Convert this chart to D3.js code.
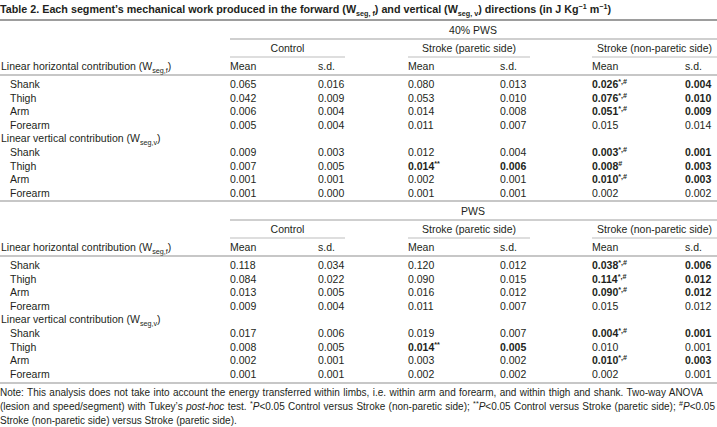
<!DOCTYPE html>
<html lang="en">
<head>
    <meta charset="UTF-8">
    <title>Table 2</title>
    <style>
        body { margin: 0; background: #fff; }
        svg { display: block; }
        text { font-family: "Liberation Sans", Arial, sans-serif; fill: #231f20; }
    </style>
</head>
<body>
    <svg width="717" height="427"></svg>
    <script src="https://d3js.org/d3.v7.min.js"></script>
    <script>
        // ---- data ----
        const segments = ["Shank", "Thigh", "Arm", "Forearm"]
        const groups = ["Control", "Stroke (paretic side)", "Stroke (non-paretic side)"]
        const speeds = ["40% PWS", "PWS"]

        // each row: control mean, sd, paretic mean, sd, non-paretic mean, sd
        const slowHorizontal = [
            [0.065, 0.016, 0.080, 0.013, 0.026, 0.004],
            [0.042, 0.009, 0.053, 0.010, 0.076, 0.010],
            [0.006, 0.004, 0.014, 0.008, 0.051, 0.009],
            [0.005, 0.004, 0.011, 0.007, 0.015, 0.014],
        ]
        const slowVertical = [
            [0.009, 0.003, 0.012, 0.004, 0.003, 0.001],
            [0.007, 0.005, 0.014, 0.006, 0.008, 0.003],
            [0.001, 0.001, 0.002, 0.001, 0.010, 0.003],
            [0.001, 0.000, 0.001, 0.001, 0.002, 0.002],
        ]
        const pwsHorizontal = [
            [0.118, 0.034, 0.120, 0.012, 0.038, 0.006],
            [0.084, 0.022, 0.090, 0.015, 0.114, 0.012],
            [0.013, 0.005, 0.016, 0.012, 0.090, 0.012],
            [0.009, 0.004, 0.011, 0.007, 0.015, 0.012],
        ]
        const pwsVertical = [
            [0.017, 0.006, 0.019, 0.007, 0.004, 0.001],
            [0.008, 0.005, 0.014, 0.005, 0.010, 0.001],
            [0.002, 0.001, 0.003, 0.002, 0.010, 0.003],
            [0.001, 0.001, 0.002, 0.002, 0.002, 0.001],
        ]
        // significance marks per group (marked cells are bold)
        const slowMarksH = [["", "", "*,#"], ["", "", "*,#"], ["", "", "*,#"], ["", "", ""]]
        const slowMarksV = [["", "", "*,#"], ["", "**", "#"], ["", "", "*,#"], ["", "", ""]]
        const pwsMarksH = [["", "", "*,#"], ["", "", "*,#"], ["", "", "*,#"], ["", "", ""]]
        const pwsMarksV = [["", "", "*,#"], ["", "**", ""], ["", "", "*,#"], ["", "", ""]]

        const blocks = [
            { speed: speeds[0], h: slowHorizontal, v: slowVertical, mh: slowMarksH, mv: slowMarksV, top: 20 },
            { speed: speeds[1], h: pwsHorizontal, v: pwsVertical, mh: pwsMarksH, mv: pwsMarksV, top: 201 },
        ]

        const svg = d3.select('svg')
        const W = 717
        const fs = 10.5
        const fmt = d3.format('.3f')

        // columns
        const colX = d3.scaleOrdinal()
            .domain(['c0m', 'c0s', 'c1m', 'c1s', 'c2m', 'c2s'])
            .range([230, 318, 408, 500, 592, 685])
        const groupSpan = [[230, 345], [408, 530], [592, 717]]

        // rich text helper: parts = [{t, sub, sup, i}]
        function rich(sel, parts) {
            let shift = 0
            parts.forEach(p => {
                const s = p.sub ? 2.5 : p.sup ? -3.8 : 0
                sel.append('tspan')
                    .attr('dy', s - shift)
                    .style('font-size', s ? '7.2px' : null)
                    .style('font-style', p.i ? 'italic' : null)
                    .text(p.t)
                shift = s
            })
            return sel
        }

        function hline(x1, x2, y, color, w) {
            svg.append('line')
                .attr('x1', x1).attr('x2', x2)
                .attr('y1', y).attr('y2', y)
                .attr('stroke', color).attr('stroke-width', w)
        }

        // title
        rich(svg.append('text').attr('x', 0).attr('y', 13).style('font-size', '10.75px').style('font-weight', 'bold'), [
            { t: "Table 2. Each segment\u2019s mechanical work produced in the forward (W" },
            { t: "seg, f", sub: true }, { t: ") and vertical (W" },
            { t: "seg, v", sub: true }, { t: ") directions (in J Kg" },
            { t: "\u22121", sup: true }, { t: " m" }, { t: "\u22121", sup: true }, { t: ")" },
        ])
        hline(0, W, 20, '#7d7d7d', 1.6)

        blocks.forEach((b, bi) => {
            const t = b.top
            if (bi > 0) hline(0, W, t, '#8f8f8f', 1.2)
            // speed header
            svg.append('text').attr('x', 473).attr('y', t + 13.5)
                .attr('text-anchor', 'middle').style('font-size', fs + 'px').text(b.speed)
            hline(230, W, t + 19, '#a0a0a0', 1.2)
            // group headers
            groups.forEach((g, gi) => {
                svg.append('text').attr('x', (groupSpan[gi][0] + groupSpan[gi][1]) / 2).attr('y', t + 32)
                    .attr('text-anchor', 'middle').style('font-size', fs + 'px').text(g)
                hline(groupSpan[gi][0], groupSpan[gi][1], t + 37, '#bdbdbd', 1.2)
            })
            // mean / sd header
            rich(svg.append('text').attr('x', 1).attr('y', t + 50).style('font-size', fs + 'px'), [
                { t: "Linear horizontal contribution (W" }, { t: "seg,f", sub: true }, { t: ")" },
            ])
            groups.forEach((g, gi) => {
                svg.append('text').attr('x', colX('c' + gi + 'm')).attr('y', t + 50).style('font-size', fs + 'px').text('Mean')
                svg.append('text').attr('x', colX('c' + gi + 's')).attr('y', t + 50).style('font-size', fs + 'px').text('s.d.')
            })
            hline(0, W, t + 55, '#8f8f8f', 1.2)

            // rows
            const y = d3.scaleLinear().domain([0, 8]).range([t + 68, t + 68 + 8 * 13.6])
            const rows = []
            b.h.forEach((r, i) => rows.push({ label: segments[i], vals: r, marks: b.mh[i], idx: i }))
            rows.push({ header: true, idx: 4 })
            b.v.forEach((r, i) => rows.push({ label: segments[i], vals: r, marks: b.mv[i], idx: 5 + i }))

            const g = svg.append('g')
            rows.forEach(r => {
                if (r.header) {
                    rich(g.append('text').attr('x', 1).attr('y', y(r.idx)).style('font-size', fs + 'px'), [
                        { t: "Linear vertical contribution (W" }, { t: "seg,v", sub: true }, { t: ")" },
                    ])
                    return
                }
                g.append('text').attr('x', 10).attr('y', y(r.idx)).style('font-size', fs + 'px').text(r.label)
                groups.forEach((gr, gi) => {
                    const mark = r.marks[gi]
                    const bold = mark ? 'bold' : null
                    const tm = g.append('text').attr('x', colX('c' + gi + 'm')).attr('y', y(r.idx))
                        .style('font-size', fs + 'px').style('font-weight', bold)
                    const parts = [{ t: fmt(r.vals[gi * 2]) }]
                    if (mark) parts.push({ t: mark, sup: true })
                    rich(tm, parts)
                    g.append('text').attr('x', colX('c' + gi + 's')).attr('y', y(r.idx))
                        .style('font-size', fs + 'px').style('font-weight', bold)
                        .text(fmt(r.vals[gi * 2 + 1]))
                })
            })
        })

        hline(0, W, 383, '#8f8f8f', 1.2)

        // note (first two lines are justified by widening the word spaces)
        const noteLines = [
            [{ t: "Note: This analysis does not take into account the energy transferred within limbs, i.e. within arm and forearm, and within thigh and shank. Two-way ANOVA" }],
            [{ t: "(lesion and speed/segment) with Tukey\u2019s " }, { t: "post-hoc", i: true }, { t: " test. " }, { t: "*", sup: true },
             { t: "P", i: true }, { t: "<0.05 Control versus Stroke (non-paretic side); " }, { t: "**", sup: true },
             { t: "P", i: true }, { t: "<0.05 Control versus Stroke (paretic side); " }, { t: "#", sup: true },
             { t: "P", i: true }, { t: "<0.05" }],
            [{ t: "Stroke (non-paretic side) versus Stroke (paretic side)." }],
        ]
        const noteWidths = [703, 715, null]
        noteLines.forEach((parts, i) => {
            const tx = svg.append('text').attr('x', 0).attr('y', 396 + i * 14).style('font-size', '10px')
            rich(tx, parts)
            if (noteWidths[i]) {
                const w = tx.node().getComputedTextLength()
                const spaces = parts.map(p => p.t).join('').split(' ').length - 1
                const extra = (noteWidths[i] - w) / spaces
                if (extra > 0) tx.style('word-spacing', extra + 'px')
            }
        })
    </script>
</body>
</html>
